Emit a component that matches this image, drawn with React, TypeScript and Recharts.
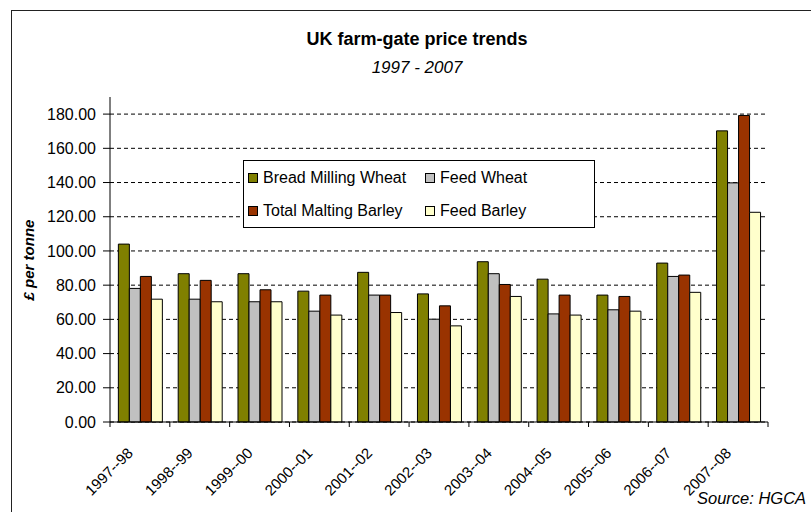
import React from 'react';
import { BarChart, Bar, XAxis, YAxis, CartesianGrid } from 'recharts';

const categories = ['1997--98', '1998--99', '1999--00', '2000--01', '2001--02', '2002--03', '2003--04', '2004--05', '2005--06', '2006--07', '2007--08'];
const breadMillingWheat = [104, 86.7, 86.7, 76.5, 87.5, 74.9, 93.7, 83.5, 74.2, 92.9, 170.2];
const feedWheat = [78.1, 71.8, 70.3, 64.8, 74.2, 60.1, 86.7, 63.2, 65.6, 85.1, 139.8];
const totalMaltingBarley = [85.1, 82.8, 77.3, 74.2, 74.2, 67.9, 80.4, 74.2, 73.4, 85.9, 179.2];
const feedBarley = [71.8, 70.3, 70.3, 62.5, 64.0, 56.2, 73.4, 62.5, 64.8, 75.8, 122.6];
const yTicks = [0, 20, 40, 60, 80, 100, 120, 140, 160, 180];

const series = [
  { key: 'bread', name: 'Bread Milling Wheat', color: '#808000' },
  { key: 'feedWheat', name: 'Feed Wheat', color: '#C0C0C0' },
  { key: 'malting', name: 'Total Malting Barley', color: '#993300' },
  { key: 'feedBarley', name: 'Feed Barley', color: '#FFFFCC' },
];

const data = categories.map((c, i) => ({
  name: c,
  bread: breadMillingWheat[i],
  feedWheat: feedWheat[i],
  malting: totalMaltingBarley[i],
  feedBarley: feedBarley[i],
}));

const FONT = '"Liberation Sans", Arial, sans-serif';
const W = 811;
const H = 512;
const margin = { top: 97, right: 43, bottom: 0, left: 0 };
const xAxisHeight = 90;
const yAxisWidth = 110;
const bandWidth = (W - margin.right - yAxisWidth) / categories.length;

// tick marks sit on the category boundaries, labels hang from the category centre
const XTick = (props: any) => {
  const { x, y, payload, index } = props;
  const tx = x - 6;
  const ty = y + 32;
  return (
    <g>
      <line x1={x - bandWidth / 2} x2={x - bandWidth / 2} y1={y} y2={y + 5} stroke="#000" />
      {index === categories.length - 1 && (
        <line x1={x + bandWidth / 2} x2={x + bandWidth / 2} y1={y} y2={y + 5} stroke="#000" />
      )}
      <text
        x={tx}
        y={ty}
        transform={`rotate(-45, ${tx}, ${ty})`}
        textAnchor="end"
        fontSize={15}
        fontFamily={FONT}
        fill="#000"
      >
        {payload.value}
      </text>
    </g>
  );
};

const LegendBox = () => {
  const cell = (s: typeof series[number]) => (
    <div key={s.key} style={{ display: 'flex', alignItems: 'center', height: 33 }}>
      <span style={{ display: 'inline-block', width: 8, height: 8, background: s.color, border: '1px solid #000', marginRight: 5 }} />
      <span>{s.name}</span>
    </div>
  );
  return (
    <div
      style={{
        position: 'absolute',
        left: 243,
        top: 160,
        boxSizing: 'border-box',
        width: 352,
        height: 68,
        border: '1.5px solid #000',
        background: '#fff',
        fontSize: 16,
        color: '#000',
        display: 'grid',
        gridTemplateColumns: '177px 170px',
        paddingLeft: 4,
        lineHeight: 1,
      }}
    >
      {series.map(cell)}
    </div>
  );
};

const App: React.FC = () => {
  return (
    <div style={{ position: 'absolute', left: 0, top: 0, width: W, height: H, overflow: 'hidden', background: '#fff', fontFamily: FONT }}>
      <div style={{ position: 'absolute', left: 11, top: 10, width: 860, height: 560, border: '1.5px solid #222' }} />
      <div style={{ position: 'absolute', left: 0, width: 834, top: 29, textAlign: 'center', fontSize: 18, fontWeight: 'bold' }}>
        UK farm-gate price trends
      </div>
      <div style={{ position: 'absolute', left: 0, width: 834, top: 58, textAlign: 'center', fontSize: 17, fontStyle: 'italic' }}>
        1997 - 2007
      </div>
      <div
        style={{
          position: 'absolute',
          left: 28,
          top: 260,
          transform: 'translate(-50%, -50%) rotate(-90deg)',
          fontSize: 15,
          fontStyle: 'italic',
          fontWeight: 'bold',
          whiteSpace: 'nowrap',
        }}
      >
        £ per tonne
      </div>
      <div style={{ position: 'absolute', left: 697, top: 489, fontSize: 16.5, fontStyle: 'italic', whiteSpace: 'nowrap' }}>
        Source: HGCA
      </div>
      <div style={{ position: 'absolute', left: 0, top: 0 }}>
        <BarChart width={W} height={H} data={data} margin={margin} barCategoryGap="14%" barGap={0}>
          <CartesianGrid vertical={false} horizontalFill={[]} stroke="#000" strokeDasharray="4 3" syncWithTicks />
          <XAxis
            dataKey="name"
            axisLine={{ stroke: '#000' }}
            tickLine={false}
            tickSize={0}
            tickMargin={0}
            interval={0}
            tick={<XTick />}
            height={xAxisHeight}
          />
          <YAxis
            width={yAxisWidth}
            domain={[0, 190]}
            ticks={yTicks}
            interval={0}
            axisLine={{ stroke: '#000' }}
            tickLine={{ stroke: '#000' }}
            tickSize={7}
            tickMargin={7}
            tickFormatter={(v: number) => v.toFixed(2)}
            tick={{ fill: '#000', fontSize: 16, fontFamily: FONT }}
          />
          {series.map((s) => (
            <Bar key={s.key} dataKey={s.key} name={s.name} fill={s.color} stroke="#000" strokeWidth={1} isAnimationActive={false} />
          ))}
        </BarChart>
      </div>
      <LegendBox />
    </div>
  );
};

export default App;
